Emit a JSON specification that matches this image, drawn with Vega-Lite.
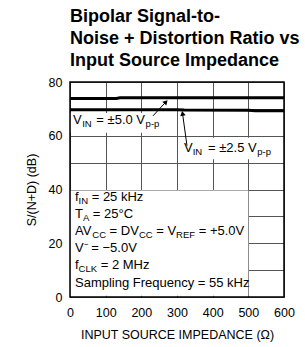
{
  "$schema": "https://vega.github.io/schema/vega-lite/v6.json",
  "width": 214,
  "height": 215,
  "autosize": {"type": "none"},
  "padding": {"left": 70, "top": 82, "right": 21, "bottom": 50},
  "title": {
    "text": ["Bipolar Signal-to-", "Noise + Distortion Ratio vs", "Input Source Impedance"],
    "anchor": "start",
    "frame": "group",
    "font": "Liberation Sans",
    "fontSize": 18,
    "fontWeight": "bold",
    "lineHeight": 22,
    "offset": 6,
    "color": "black"
  },
  "config": {
    "view": {"stroke": null},
    "font": "Liberation Sans",
    "axis": {
      "labelColor": "black",
      "titleColor": "black",
      "labelFont": "Liberation Sans",
      "titleFont": "Liberation Sans",
      "labelFontSize": 12.5,
      "titleFontSize": 12.5,
      "titleFontWeight": "normal",
      "labelOverlap": false,
      "gridColor": "#555",
      "gridWidth": 1,
      "gridOpacity": 1,
      "domain": false,
      "ticks": false
    }
  },
  "datasets": {
    "boxes": [
      {"x": 1, "x2": 500, "y": 0.5, "y2": 39.6},
      {"x": 1, "x2": 290, "y": 61.1, "y2": 68.5},
      {"x": 322, "x2": 598, "y": 51.3, "y2": 59.3}
    ],
    "curves": [
      {"s": "a", "x": 0, "y": 73.85}, {"s": "a", "x": 130, "y": 73.85}, {"s": "a", "x": 140, "y": 74.1}, {"s": "a", "x": 600, "y": 74.15},
      {"s": "b", "x": 0, "y": 69.7}, {"s": "b", "x": 300, "y": 69.7}, {"s": "b", "x": 320, "y": 69.55}, {"s": "b", "x": 500, "y": 69.5}, {"s": "b", "x": 520, "y": 69.3}, {"s": "b", "x": 600, "y": 69.3}
    ],
    "arrows": [
      {"id": 1, "x": 232.7, "y": 67.4, "x2": 269, "y2": 72.6},
      {"id": 2, "x": 328, "y": 56.3, "x2": 315.5, "y2": 68.3}
    ],
    "heads": [
      {"id": 1, "x": 269, "y": 72.6},
      {"id": 2, "x": 315.5, "y": 68.3}
    ],
    "frame": [{"x": 0, "x2": 600, "y": 0, "y2": 80}],
    "texts": [
      {"t": "f", "x": 14, "y": 35.9, "k": "m"},
      {"t": "= 25 kHz", "x": 60.8, "y": 35.9, "k": "m"},
      {"t": "T", "x": 14, "y": 29.3, "k": "m"},
      {"t": "= 25°C", "x": 63.9, "y": 29.3, "k": "m"},
      {"t": "AV", "x": 14, "y": 23.0, "k": "m"},
      {"t": "= DV", "x": 111, "y": 23.0, "k": "m"},
      {"t": "= V", "x": 241.7, "y": 23.0, "k": "m"},
      {"t": "= +5.0V", "x": 360.9, "y": 23.0, "k": "m"},
      {"t": "V⁻ = −5.0V", "x": 14, "y": 16.7, "k": "m"},
      {"t": "f", "x": 14, "y": 10.4, "k": "m"},
      {"t": "= 2 MHz", "x": 86.1, "y": 10.4, "k": "m"},
      {"t": "Sampling Frequency = 55 kHz", "x": 14, "y": 3.7, "k": "m"},
      {"t": "V", "x": 8.4, "y": 64.4, "k": "m"},
      {"t": "= ±5.0 V", "x": 73.8, "y": 64.4, "k": "m"},
      {"t": "V", "x": 319.7, "y": 53.9, "k": "m"},
      {"t": "= ±2.5 V", "x": 387, "y": 53.9, "k": "m"},
      {"t": "IN", "x": 24.1, "y": 35.9, "k": "s"},
      {"t": "A", "x": 36.2, "y": 29.3, "k": "s"},
      {"t": "CC", "x": 62.5, "y": 23.0, "k": "s"},
      {"t": "CC", "x": 193.2, "y": 23.0, "k": "s"},
      {"t": "REF", "x": 297.5, "y": 23.0, "k": "s"},
      {"t": "CLK", "x": 24.1, "y": 10.4, "k": "s"},
      {"t": "IN", "x": 34, "y": 64.4, "k": "s"},
      {"t": "p-p", "x": 212, "y": 64.4, "k": "s"},
      {"t": "IN", "x": 344, "y": 53.9, "k": "s"},
      {"t": "p-p", "x": 525, "y": 53.9, "k": "s"}
    ]
  },
  "encoding": {
    "x": {
      "field": "x", "type": "quantitative",
      "scale": {"domain": [0, 600], "nice": false, "zero": false},
      "axis": {
        "values": [0, 100, 200, 300, 400, 500, 600],
        "tickCount": 20,
        "grid": true,
        "labelOverlap": false,
        "labelFlush": false,
        "labelPadding": 9,
        "title": "INPUT SOURCE IMPEDANCE (Ω)",
        "titlePadding": 10
      }
    },
    "y": {
      "field": "y", "type": "quantitative",
      "scale": {"domain": [0, 80], "nice": false, "zero": false},
      "axis": {
        "values": [0, 10, 20, 30, 40, 50, 60, 70, 80],
        "tickCount": 20,
        "labelExpr": "datum.value % 20 == 0 ? datum.label : ''",
        "labelOverlap": false,
        "labelFlush": false,
        "grid": true,
        "labelPadding": 8,
        "title": "S/(N+D) (dB)",
        "titlePadding": 10
      }
    }
  },
  "layer": [
    {
      "data": {"name": "boxes"},
      "mark": {"type": "rect", "fill": "white", "stroke": null},
      "encoding": {
        "x2": {"field": "x2"},
        "y2": {"field": "y2"}
      }
    },
    {
      "data": {"name": "curves"},
      "mark": {"type": "line", "color": "black", "strokeWidth": 3},
      "encoding": {
        "detail": {"field": "s"}
      }
    },
    {
      "data": {"name": "arrows"},
      "mark": {"type": "rule", "color": "black", "strokeWidth": 1},
      "encoding": {
        "x2": {"field": "x2"},
        "y2": {"field": "y2"}
      }
    },
    {
      "data": {"name": "heads"},
      "transform": [{"filter": "datum.id == 1"}],
      "mark": {"type": "point", "shape": "triangle-up", "filled": true, "color": "black", "size": 30, "angle": 43, "opacity": 1},
      "encoding": {}
    },
    {
      "data": {"name": "heads"},
      "transform": [{"filter": "datum.id == 2"}],
      "mark": {"type": "point", "shape": "triangle-up", "filled": true, "color": "black", "size": 30, "angle": 350, "opacity": 1},
      "encoding": {}
    },
    {
      "data": {"name": "texts"},
      "transform": [{"filter": "datum.k == 'm'"}],
      "mark": {"type": "text", "align": "left", "baseline": "alphabetic", "fontSize": 13, "color": "black"},
      "encoding": {
        "text": {"field": "t"}
      }
    },
    {
      "data": {"name": "texts"},
      "transform": [{"filter": "datum.k == 's'"}],
      "mark": {"type": "text", "align": "left", "baseline": "alphabetic", "fontSize": 9.5, "dy": 3, "color": "black"},
      "encoding": {
        "text": {"field": "t"}
      }
    },
    {
      "data": {"name": "frame"},
      "mark": {"type": "rect", "fillOpacity": 0, "stroke": "black", "strokeWidth": 1.5},
      "encoding": {
        "x2": {"field": "x2"},
        "y2": {"field": "y2"}
      }
    }
  ]
}
